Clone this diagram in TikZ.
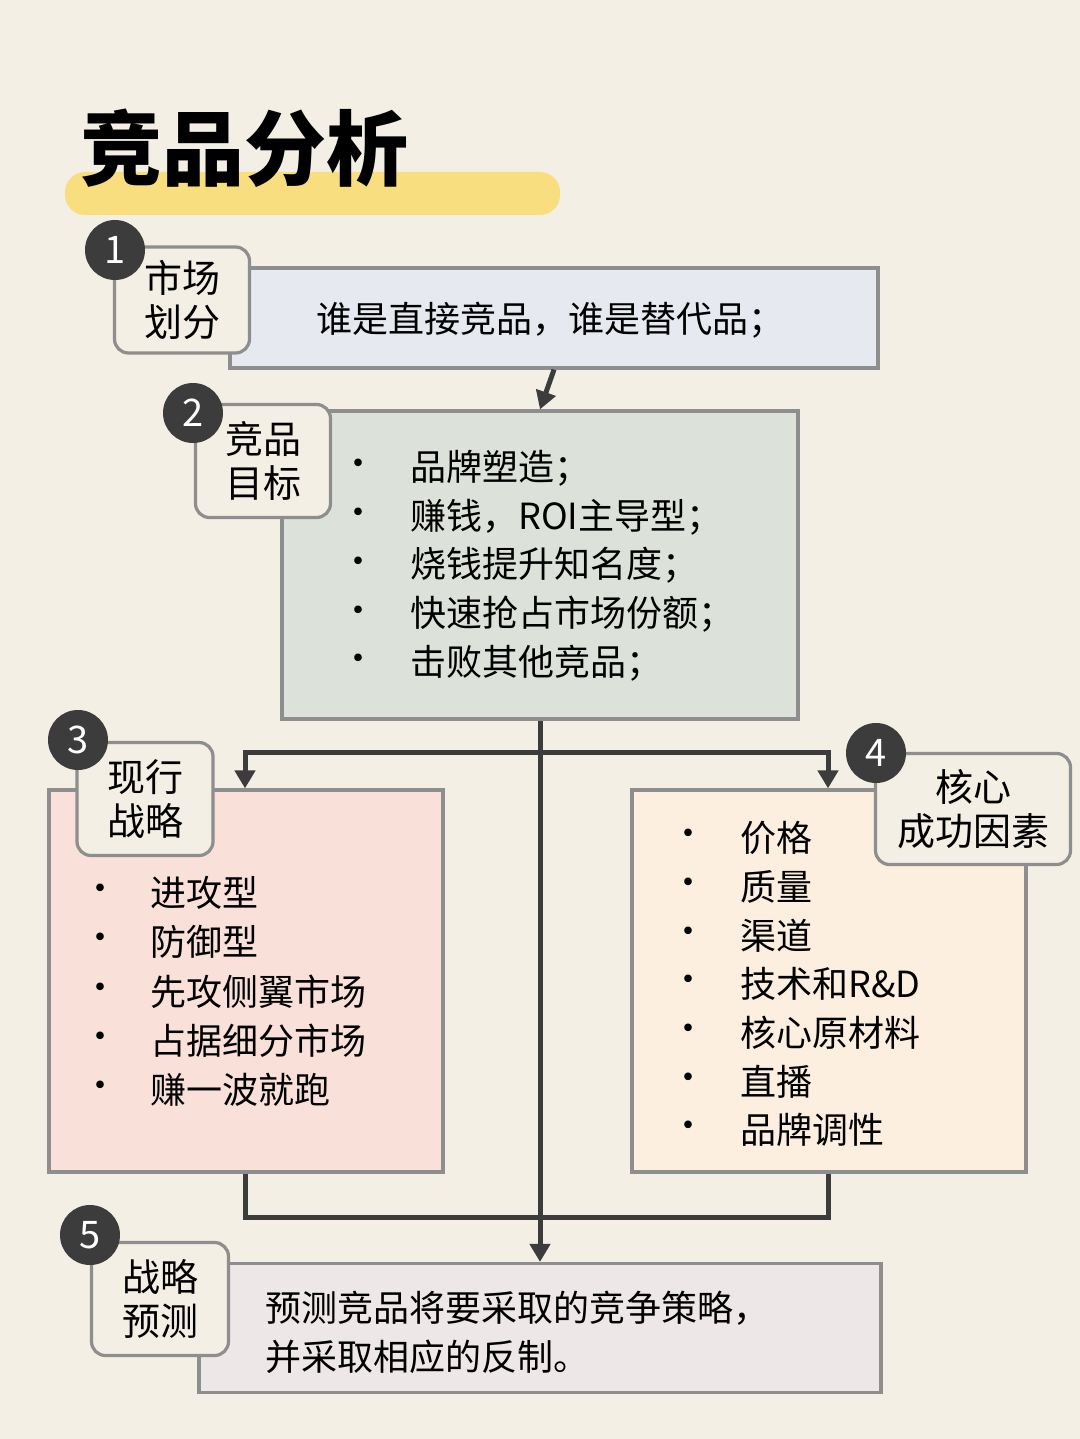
\documentclass[tikz,border=0pt]{standalone}
\usepackage{fontspec}
\setmainfont{Noto Sans CJK SC}
\usetikzlibrary{arrows.meta}
\definecolor{bgcream}{HTML}{F4EFE4}
\definecolor{hilite}{HTML}{F8DE7E}
\definecolor{linegray}{HTML}{8E8E8E}
\definecolor{darkline}{HTML}{3C3C3C}
\definecolor{fillblue}{HTML}{E6EAF0}
\definecolor{fillgreen}{HTML}{DCE2D9}
\definecolor{fillpink}{HTML}{F9E0D9}
\definecolor{fillpeach}{HTML}{FCEFDF}
\definecolor{filllav}{HTML}{EEE7E7}
\tikzset{
  panel/.style={draw=linegray, line width=1.6pt, inner sep=0pt},
  tag/.style={draw=linegray, line width=1.6pt, fill=bgcream, rounded corners=7pt,
    inner sep=0pt, align=center, font=\fontsize{19}{22}\selectfont},
  num/.style={circle, fill=darkline, text=white, minimum size=30pt, inner sep=0pt,
    font=\fontsize{19}{19}\selectfont},
  item/.style={anchor=west, inner sep=0pt, font=\fontsize{18}{20}\selectfont},
  dot/.style={inner sep=0pt, font=\fontsize{18}{20}\selectfont},
  flow/.style={draw=darkline, line width=2.5pt},
  flowarrow/.style={flow, -{Triangle[length=9pt,width=10pt]}}
}
\begin{document}
\begin{tikzpicture}[x=0.5pt,y=-0.5pt]
      \useasboundingbox (0,0) rectangle (1080,1439);
      \fill [bgcream] (0,0) rectangle (1080,1439);

      % title
      \fill [hilite, rounded corners=10pt] (65,172) rectangle (560,215);
      \node [anchor=west, inner sep=0pt] (title) at (80,148)
        {\fontsize{41}{41}\selectfont\bfseries 竞品分析};

      % panels
      \node [panel, fill=fillblue, minimum width=324pt, minimum height=50pt] (mkt) at (554,318) {};
      \node [font=\fontsize{18}{20}\selectfont] at (550,320) {谁是直接竞品，谁是替代品；};

      \node [panel, fill=fillgreen, minimum width=258pt, minimum height=154pt] (goal) at (540,565) {};
      \foreach \t [count=\i] in {品牌塑造；, {赚钱，ROI主导型；}, 烧钱提升知名度；, 快速抢占市场份额；, 击败其他竞品；} {
        \node [dot] at (358,{468+48.8*(\i-1)}) {•};
        \node [item] at (410,{468+48.8*(\i-1)}) {\t};
      }

      \node [panel, fill=fillpink, minimum width=197pt, minimum height=191pt] (cur) at (246,981) {};
      \foreach \t [count=\i] in {进攻型, 防御型, 先攻侧翼市场, 占据细分市场, 赚一波就跑} {
        \node [dot] at (100,{893+49.2*(\i-1)}) {•};
        \node [item] at (150,{893+49.2*(\i-1)}) {\t};
      }

      \node [panel, fill=fillpeach, minimum width=197pt, minimum height=191pt] (key) at (829,981) {};
      \foreach \t [count=\i] in {价格, 质量, 渠道, 技术和R\&D, 核心原材料, 直播, 品牌调性} {
        \node [dot] at (688,{838+48.7*(\i-1)}) {•};
        \node [item] at (740,{838+48.7*(\i-1)}) {\t};
      }

      \node [panel, fill=filllav, minimum width=341pt, minimum height=64.5pt] (pred) at (540,1328) {};
      \node [item, align=left, font=\fontsize{18}{24.5}\selectfont] at (265,1332)
        {预测竞品将要采取的竞争策略，\\并采取相应的反制。};

      % connectors
      \draw [flowarrow] (mkt.south) -- (goal.north);
      \draw [flowarrow] (goal.south) -- (pred.north);
      \coordinate (split) at (540,752);
      \coordinate (joinL) at (245,1217);
      \coordinate (joinR) at (828,1217);
      \draw [flowarrow] (split) -| (cur.north -| joinL);
      \draw [flowarrow] (split) -| (key.north -| joinR);
      \draw [flow] (cur.south -| joinL) -- (joinL) -- (joinR) -- (key.south -| joinR);

      % tags
      \node [tag, minimum width=67.5pt, minimum height=53pt] (t1) at (182,300) {市场\\划分};
      \node [num] (n1) at (115,250) {1};
      \node [tag, minimum width=67.5pt, minimum height=56.5pt] (t2) at (263,461) {竞品\\目标};
      \node [num] (n2) at (193,413) {2};
      \node [tag, minimum width=68pt, minimum height=56.5pt] (t3) at (145,799) {现行\\战略};
      \node [num] (n3) at (78,740) {3};
      \node [tag, minimum width=97.5pt, minimum height=55.5pt] (t4) at (973,809) {核心\\成功因素};
      \node [num] (n4) at (876,753) {4};
      \node [tag, minimum width=68.5pt, minimum height=56.5pt] (t5) at (160,1299) {战略\\预测};
      \node [num] (n5) at (90,1235) {5};
\end{tikzpicture}
\end{document}
